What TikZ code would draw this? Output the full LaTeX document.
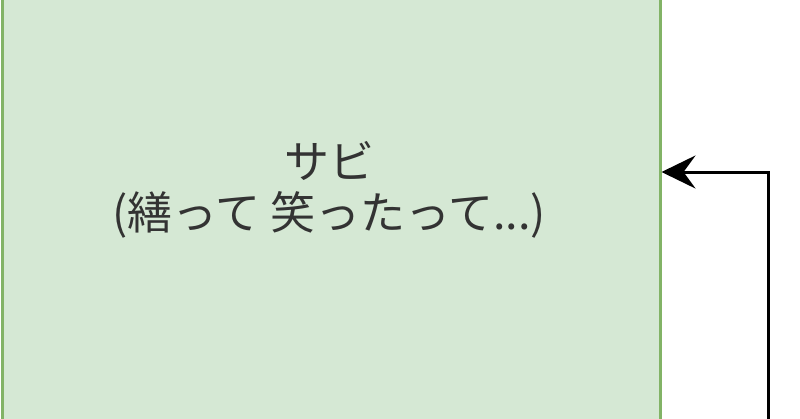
\documentclass[tikz,border=0pt]{standalone}
\usepackage{fontspec}
\newfontfamily\jpfont{Noto Sans CJK JP}
\usetikzlibrary{positioning, arrows.meta}
\definecolor{sectionfill}{HTML}{D5E8D4}
\definecolor{sectionline}{HTML}{82B366}

\begin{document}
\begin{tikzpicture}[x=1pt, y=-1pt]
                \tikzset{
                    section/.style={draw=sectionline, fill=sectionfill, line width=3pt,
                        minimum width=658pt, minimum height=640pt, inner sep=0pt},
                    lyric/.style={font=\jpfont\fontsize{45}{51}\selectfont, align=center,
                        text=black!80},
                    flow/.style={-{Stealth[length=34pt, width=33pt, inset=12pt]}, line width=3pt}
                }
                \clip (0,0) rectangle (800,418);
                \useasboundingbox (0,0) rectangle (800,418);

                % SECTION
                \node[section] (sabi) at (331,172) {};
                \node[lyric] (sabitext) at (329,190) {サビ\\(繕って 笑ったって...)};

                % RETURN
                \coordinate (back) at (768,430);
                \draw[flow] (back) |- (sabi.east);

            \end{tikzpicture}
\end{document}
